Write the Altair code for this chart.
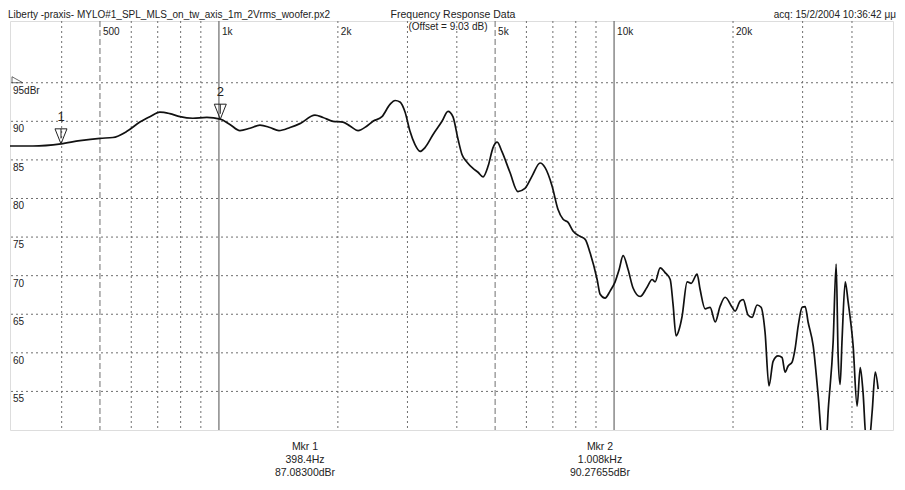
import altair as alt
import pandas as pd

# ---- curve data ----
freq_hz = [296, 338, 398.4, 445, 500, 539, 585, 631, 669, 709,
           751, 797, 859, 932, 1008, 1066, 1130, 1198, 1270, 1346,
           1419, 1513, 1603, 1750, 1834, 1944, 2060, 2146, 2249, 2370,
           2454, 2586, 2710, 2791, 2872, 2958, 3045, 3133, 3228, 3323,
           3483, 3669, 3800, 3910, 4027, 4122, 4245, 4396, 4526, 4660,
           4800, 4940, 5060, 5200, 5450, 5710, 5950, 6200, 6500, 6690,
           6970, 7210, 7430, 7650, 7870, 8200, 8450, 8690, 9060, 9220,
           9490, 9770, 10060, 10300, 10540, 10850, 11170, 11640, 12120, 12480,
           12700, 13080, 13460, 13870, 14100, 14350, 14620, 14860, 15310, 15670,
           16220, 16510, 17000, 17500, 18030, 18540, 19100, 19900, 20240, 20840,
           21220, 21830, 22340, 23010, 23550, 24100, 24660, 25260, 26000, 26610,
           27090, 27570, 28220, 28710, 29240, 29920, 30450, 30970, 31910, 32860,
           33630, 34440, 34840, 35840, 36480, 36900, 37330, 37760, 38460, 39090,
           40270, 41210, 41970, 42660, 43450, 44260, 44980, 45810, 46590]
level_db = [86.8, 86.8, 87.08, 87.5, 87.8, 87.9, 88.7, 89.9, 90.6, 91.2,
            91.0, 90.6, 90.4, 90.5, 90.28, 89.6, 88.8, 89.1, 89.5, 89.2,
            88.8, 89.2, 89.7, 90.8, 90.5, 90.0, 89.9, 89.4, 88.8, 89.4,
            90.0, 90.6, 92.2, 92.7, 92.5, 91.2, 88.7, 87.0, 86.1, 86.6,
            88.3, 90.0, 91.3, 90.6, 87.7, 85.7, 84.7, 83.9, 83.4, 82.8,
            84.2, 86.6, 87.3, 86.1, 83.4, 80.9, 81.3, 82.9, 84.6, 84.0,
            81.6, 78.6, 77.3, 76.9, 75.8, 75.1, 74.7, 73.0, 69.5, 67.6,
            67.1, 68.0, 69.2, 70.8, 72.6, 70.8, 68.4, 67.3, 68.5, 69.5,
            69.2, 71.0, 70.4, 69.5, 66.3, 62.2, 63.1, 64.7, 69.2, 69.0,
            70.2, 68.2, 65.7, 65.9, 64.0, 66.0, 67.2, 65.9, 65.4, 66.7,
            66.9, 64.9, 64.6, 66.2, 65.9, 62.7, 55.7, 58.9, 59.6, 59.4,
            57.5, 58.3, 58.8, 60.5, 63.5, 65.9, 66.0, 64.0, 60.9, 54.4,
            48.8, 48.8, 52.7, 61.4, 71.5, 59.6, 55.9, 61.8, 69.2, 66.7,
            60.9, 53.1, 58.1, 54.9, 48.8, 48.8, 52.3, 57.5, 55.3]

# ---- grid / ticks ----
grid_minor_hz = [400, 600, 700, 800, 900, 2000, 3000, 4000, 6000, 7000, 8000,
                 9000, 20000, 30000, 40000]
grid_half_hz = [500, 5000]
grid_decade_hz = [1000, 10000]
grid_db = [55, 60, 65, 70, 75, 80, 85, 90, 95]
x_tick_hz = [500, 1000, 2000, 5000, 10000, 20000]
x_tick_labels = ["500", "1k", "2k", "5k", "10k", "20k"]
y_tick_db = [55, 60, 65, 70, 75, 80, 85, 90, 95]
y_tick_labels = ["55", "60", "65", "70", "75", "80", "85", "90", "95dBr"]

# ---- markers ----
marker_ids = ["1", "2"]
marker_hz = [398.4, 1008]
marker_db = [87.083, 90.27655]
marker_titles = ["Mkr 1", "Mkr 2"]
marker_hz_text = ["398.4Hz", "1.008kHz"]
marker_db_text = ["87.08300dBr", "90.27655dBr"]

title_text = "Frequency Response Data"
subtitle_left = "Liberty -praxis-   MYLO#1_SPL_MLS_on_tw_axis_1m_2Vrms_woofer.px2"
subtitle_right = "acq: 15/2/2004 10:36:42 μμ"
offset_text = "(Offset = 9.03 dB)"

FONT = "Liberation Sans"
W, H = 883, 409

xs = alt.Scale(type="log", domain=[296, 50800], nice=False)
ys = alt.Scale(domain=[50, 103], nice=False, zero=False)

curve_df = pd.DataFrame({"f": freq_hz, "db": level_db})
mk_df = pd.DataFrame({"id": marker_ids, "f": marker_hz, "db": marker_db})


def vrules(vals, dash, color):
    return alt.Chart(pd.DataFrame({"f": vals})).mark_rule(
        strokeDash=dash, color=color, strokeWidth=1
    ).encode(x=alt.X("f:Q", scale=xs, axis=None))


grid_minor = vrules(grid_minor_hz, [2, 3], "#6f6f6f")
grid_half = vrules(grid_half_hz, [6, 3], "#6f6f6f")
grid_dec = alt.Chart(pd.DataFrame({"f": grid_decade_hz})).mark_rule(
    color="#6a6a6a", strokeWidth=1.2
).encode(x=alt.X("f:Q", scale=xs, axis=None))

hgrid = alt.Chart(pd.DataFrame({"db": grid_db})).mark_rule(
    strokeDash=[2, 3], color="#6f6f6f", strokeWidth=1
).encode(y=alt.Y("db:Q", scale=ys, axis=None))

xlab = alt.Chart(pd.DataFrame({"f": x_tick_hz, "t": x_tick_labels})).mark_text(
    align="left", baseline="middle", dx=3, fontSize=10, font=FONT, color="#222"
).encode(x=alt.X("f:Q", scale=xs, axis=None), y=alt.value(11), text="t:N")

ylab = alt.Chart(pd.DataFrame({"db": y_tick_db, "t": y_tick_labels})).mark_text(
    align="left", baseline="middle", dy=8, fontSize=10, font=FONT, color="#222"
).encode(x=alt.value(3), y=alt.Y("db:Q", scale=ys, axis=None), text="t:N")

ref_mark = alt.Chart(pd.DataFrame({"db": [95]})).mark_point(
    shape="M0,0L1.8,0L0,-1Z", size=144, filled=False, color="#444", strokeWidth=0.8, opacity=1
).encode(x=alt.value(2), y=alt.Y("db:Q", scale=ys, axis=None))

curve = alt.Chart(curve_df).mark_line(
    color="#111", strokeWidth=1.7, clip=True, interpolate="monotone"
).encode(x=alt.X("f:Q", scale=xs, axis=None), y=alt.Y("db:Q", scale=ys, axis=None))

tri = alt.Chart(mk_df).mark_point(
    shape="M-1,-2.5L1,-2.5L0,0Z M0,-2.5L0,-0.9", size=144, filled=False,
    color="#222", strokeWidth=1, opacity=1
).encode(x=alt.X("f:Q", scale=xs, axis=None), y=alt.Y("db:Q", scale=ys, axis=None))

tri_lab = alt.Chart(mk_df).mark_text(
    baseline="middle", dy=-27, fontSize=13, font=FONT, color="#222"
).encode(x=alt.X("f:Q", scale=xs, axis=None), y=alt.Y("db:Q", scale=ys, axis=None), text="id:N")


def free_text(txt, x, y, align="center", size=10):
    return alt.Chart(pd.DataFrame({"t": [txt]})).mark_text(
        align=align, baseline="middle", fontSize=size, font=FONT, color="#222"
    ).encode(x=alt.value(x), y=alt.value(y), text="t:N")


texts = [
    free_text(title_text, 443, -6, "center", 10.5),
    free_text(subtitle_left, -2, -6, "left", 10),
    free_text(subtitle_right, 886, -6, "right", 10),
    free_text(offset_text, 438, 6, "center", 10),
]
mk_x = [295, 590]
for i in range(2):
    texts.append(free_text(marker_titles[i], mk_x[i], 426, "center", 10.5))
    texts.append(free_text(marker_hz_text[i], mk_x[i], 439, "center", 10.5))
    texts.append(free_text(marker_db_text[i], mk_x[i], 452, "center", 10.5))

chart = alt.layer(
    hgrid, grid_minor, grid_half, grid_dec, xlab, ylab, ref_mark, curve, tri, tri_lab, *texts
).properties(
    width=W, height=H,
    padding={"left": 2, "top": 13, "right": 4, "bottom": 48},
    autosize=alt.AutoSizeParams(type="none"),
).configure_view(
    stroke="#555", strokeWidth=1.5
).configure(background="white")

chart.save("out.html", embed_options={"renderer": "svg", "actions": False})
